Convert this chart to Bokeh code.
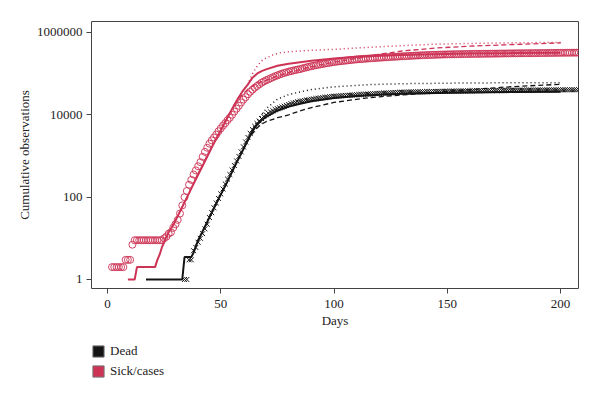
from bokeh.plotting import figure
from bokeh.models import Range1d, FixedTicker, NumeralTickFormatter, Legend, LegendItem
from bokeh.layouts import column
from bokeh.embed import file_html
from bokeh.resources import INLINE

FONT = "Liberation Serif"
RED = "#CC3355"
BLACK = "#141414"

cases_days = list(range(2, 209))
cases_obs = [2, 2, 2, 2, 2, 2, 3, 3, 3, 7,
             9, 9, 9, 9, 9, 9, 9, 9, 9, 9, 9, 9, 9,
             10, 11, 13, 14, 18, 22, 28, 40, 63, 100,
             141, 200, 263, 355, 447, 562, 708, 955, 1259, 1585,
             1995, 2399, 2818, 3311, 3981, 4677, 5495, 6310, 7413, 8511,
             10000, 12023, 14125, 16596, 19953, 23442, 26915, 31623, 36308, 40738,
             45709, 50119, 54954, 60256, 64565, 69000, 73000, 77500, 82000, 86500,
             91000, 95500, 100000, 104000, 108000, 112000, 115500, 119000, 122500, 126000,
             129000, 134000, 138500, 143000, 147500, 152000, 156000, 160000, 164000, 168000,
             172000, 176000, 180000, 184000, 188000, 192000, 195000, 198000, 201000, 204000,
             207000, 210000, 213000, 216000, 219000, 222000, 224200, 226400, 228600, 230800,
             233000, 235200, 237400, 239600, 241800, 244000, 246000, 248000, 250000, 252000,
             254000, 256000, 258000, 260000, 262000, 264000, 265800, 267600, 269400, 271200,
             273000, 274800, 276600, 278400, 280200, 282000, 283200, 284400, 285600, 286800,
             288000, 289200, 290400, 291600, 292800, 294000, 294700, 295400, 296100, 296800,
             297500, 298200, 298900, 299600, 300300, 301000, 301500, 302000, 302500, 303000,
             303500, 304000, 304500, 305000, 305500, 306000, 306600, 307200, 307800, 308400,
             309000, 309600, 310200, 310800, 311400, 312000, 312400, 312800, 313200, 313600,
             314000, 314400, 314800, 315200, 315600, 316000, 316500, 317000, 317500, 318000,
             318500, 319000, 319500, 320000, 320500, 321000, 321400, 321800, 322200, 322600,
             323000, 323300, 323600, 324000]

dead_days = list(range(34, 209))
dead_obs = [1, 1, 3, 3, 5, 6, 8, 10, 13, 17,
            22, 32, 42, 55, 72, 93, 120, 158, 209, 275,
            355, 457, 589, 759, 977, 1259, 1660, 2188, 2818, 3548,
            4365, 5248, 6166, 7079, 8128, 9120, 10000, 10965, 11749, 12589,
            13490, 14125, 14791, 15488, 16218, 16982, 17783, 18621, 19498, 19953,
            20893, 21380, 21880, 22390, 22900, 23400, 23900, 24400, 24850, 25300,
            25750, 26200, 26650, 27100, 27500, 27900, 28300, 28550, 28800, 29050,
            29300, 29550, 29800, 30050, 30300, 30550, 30800, 31050, 31300, 31550,
            31800, 32050, 32300, 32550, 32800, 33050, 33300, 33520, 33740, 33960,
            34180, 34400, 34620, 34840, 35060, 35280, 35500, 35600, 35700, 35800,
            35900, 36000, 36100, 36200, 36300, 36400, 36500, 36600, 36700, 36800,
            36900, 37000, 37100, 37200, 37300, 37400, 37500, 37570, 37640, 37710,
            37780, 37850, 37920, 37990, 38060, 38130, 38200, 38270, 38340, 38410,
            38480, 38550, 38620, 38690, 38760, 38830, 38900, 38970, 39040, 39110,
            39180, 39250, 39320, 39390, 39460, 39530, 39600, 39640, 39680, 39720,
            39760, 39800, 39840, 39880, 39920, 39960, 40000, 40040, 40080, 40120,
            40160, 40200, 40240, 40280, 40320, 40360, 40400, 40440, 40480, 40520,
            40560, 40600, 40640, 40680, 40720]

# ---- model curves ----
cases_fit_days = [9, 10, 11, 12, 13, 14, 15, 16, 17, 18, 19, 20, 21, 22, 23, 24, 25, 26, 27, 28, 29, 30,
                  32, 34, 36, 38, 40, 42, 44, 46, 48, 50, 52, 54, 56, 58, 60, 62, 64, 66, 68, 70,
                  75, 80, 85, 90, 100, 110, 120, 130, 145, 160, 180, 200]
cases_fit = [1, 1, 1, 1, 2, 2, 2, 2, 2, 2, 2, 2, 2, 3, 4, 6, 8, 11, 14, 17, 21, 27,
             45, 75, 125, 210, 350, 580, 960, 1600, 2600, 4200, 6800, 11000, 17500, 27000, 40000,
             55000, 80000, 100000, 115000, 127000,
             155000, 175000, 190000, 205000, 232000, 258000, 272000, 284000, 298000, 308000, 316000, 322000]

cases_dot_days = [56, 58, 60, 62, 64, 66, 68, 70, 73, 76, 80, 85, 90, 100, 110, 120, 130, 145, 170, 200]
cases_dot = [17500, 27000, 40000, 56000, 100000, 150000, 205000, 240000, 285000, 320000, 340000,
             355000, 368000, 390000, 420000, 450000, 480000, 520000, 555000, 575000]

cases_dash_days = [56, 58, 60, 62, 64, 66, 68, 70, 75, 80, 85, 90, 100, 110, 118, 130, 145, 160, 175, 200]
cases_dash = [17500, 25000, 33000, 42000, 50000, 57000, 63000, 69000, 88000, 108000, 127000, 148000,
              190000, 235000, 285000, 355000, 420000, 465000, 500000, 560000]

dead_fit_days = [17, 33, 34, 37, 38, 40, 42, 44, 46, 48, 50, 52, 54, 56, 58, 60, 62, 64, 66, 68, 70,
                 75, 80, 85, 90, 100, 110, 120, 130, 145, 160, 180, 200]
dead_fit = [1, 1, 3.5, 3.5, 4.5, 9, 15, 25, 42, 70, 115, 190, 316, 540, 890, 1480, 2450, 4000, 5750,
            7400, 8900, 12600, 15800, 18600, 21400, 25700, 28800, 30900, 32400, 33900, 35100, 35900, 36300]

dead_dot_days = [60, 62, 64, 66, 68, 70, 75, 80, 85, 90, 100, 115, 130, 160, 200]
dead_dot = [1480, 2600, 4600, 7000, 10000, 14000, 24000, 31000, 36000, 41000, 48000, 54000, 57000,
            59500, 60500]

dead_dash_days = [60, 62, 64, 66, 68, 70, 75, 80, 85, 90, 100, 115, 130, 145, 160, 175, 190, 200]
dead_dash = [1480, 2400, 3500, 4800, 6000, 6800, 8500, 10000, 12500, 15000, 20000, 26000, 30500,
             35000, 41000, 47000, 52000, 55000]

x_ticks = [0, 50, 100, 150, 200]
y_ticks = [1, 100, 10000, 1000000]
legend_labels = ["Dead", "Sick/cases"]

p = figure(frame_width=487, frame_height=267, y_axis_type="log",
           x_range=Range1d(-7.06, 207.9), y_range=Range1d(0.604, 1.85e6),
           output_backend="svg", toolbar_location=None,
           min_border_left=91, min_border_right=21, min_border_top=21, min_border_bottom=50)

p.background_fill_color = "white"
p.border_fill_color = "white"
p.outline_line_color = "#444444"
p.outline_line_width = 1
p.xgrid.visible = False
p.ygrid.visible = False

# markers
p.scatter(cases_days, cases_obs, marker="circle", size=7, fill_color=None,
          line_color=RED, line_width=1, line_alpha=0.9)
p.scatter(dead_days, dead_obs, marker="x", size=7, line_color=BLACK, line_width=1)

# model lines
p.line(cases_fit_days, cases_fit, line_color=RED, line_width=2)
p.line(cases_dot_days, cases_dot, line_color=RED, line_width=1.5, line_dash="1 3")
p.line(cases_dash_days, cases_dash, line_color=RED, line_width=1.3, line_dash="5 3")
p.line(dead_fit_days, dead_fit, line_color=BLACK, line_width=2)
p.line(dead_dot_days, dead_dot, line_color=BLACK, line_width=1.5, line_dash="1 3")
p.line(dead_dash_days, dead_dash, line_color=BLACK, line_width=1.3, line_dash="5 3")

# axes
for ax in (p.xaxis[0], p.yaxis[0]):
    ax.axis_line_color = None
    ax.major_tick_line_color = "#444444"
    ax.major_tick_out = 5
    ax.major_tick_in = 0
    ax.minor_tick_line_color = None
    ax.major_label_text_font = FONT
    ax.major_label_text_font_size = "13px"
    ax.major_label_text_color = "#222222"
    ax.axis_label_text_font = FONT
    ax.axis_label_text_font_size = "13px"
    ax.axis_label_text_font_style = "normal"
    ax.axis_label_text_color = "#222222"

p.xaxis.ticker = FixedTicker(ticks=x_ticks)
p.yaxis.ticker = FixedTicker(ticks=y_ticks, minor_ticks=[])
p.yaxis.formatter = NumeralTickFormatter(format="0")
p.xaxis.axis_label = "Days"
p.yaxis.axis_label = "Cumulative observations"
p.xaxis.major_label_standoff = 6
p.yaxis.major_label_standoff = 4
p.xaxis.axis_label_standoff = 2
p.yaxis.axis_label_standoff = 2

# ---- legend strip below the chart (its frame aligns with the chart frame) ----
lg = figure(width=600, height=50, x_range=Range1d(0, 1), y_range=Range1d(0, 1),
            output_backend="svg", toolbar_location=None,
            x_axis_location=None, y_axis_location=None, min_border=0)
lg.outline_line_color = None
lg.background_fill_color = "white"
lg.border_fill_color = "white"
lg.xgrid.visible = False
lg.ygrid.visible = False

# legend proxies: one swatch renderer per series, kept outside the visible range
sw_dead = lg.quad(left=[-3], right=[-2], top=[-2], bottom=[-3], fill_color=BLACK, line_color="#777777")
sw_sick = lg.quad(left=[-3], right=[-2], top=[-2], bottom=[-3], fill_color=RED, line_color="#777777")
legend = Legend(items=[LegendItem(label=legend_labels[0], renderers=[sw_dead]),
                       LegendItem(label=legend_labels[1], renderers=[sw_sick])],
                orientation="vertical", location=(0, 7))
legend.margin = 0
legend.padding = 0
legend.spacing = 0
legend.border_line_color = None
legend.background_fill_alpha = 0
legend.glyph_width = 14
legend.glyph_height = 14
legend.label_height = 20
legend.label_standoff = 5
legend.label_text_font = FONT
legend.label_text_font_size = "13px"
legend.label_text_color = "#222222"
lg.add_layout(legend, "center")

layout = column(p, lg, spacing=0)
open("out.html", "w").write(file_html(layout, INLINE))
